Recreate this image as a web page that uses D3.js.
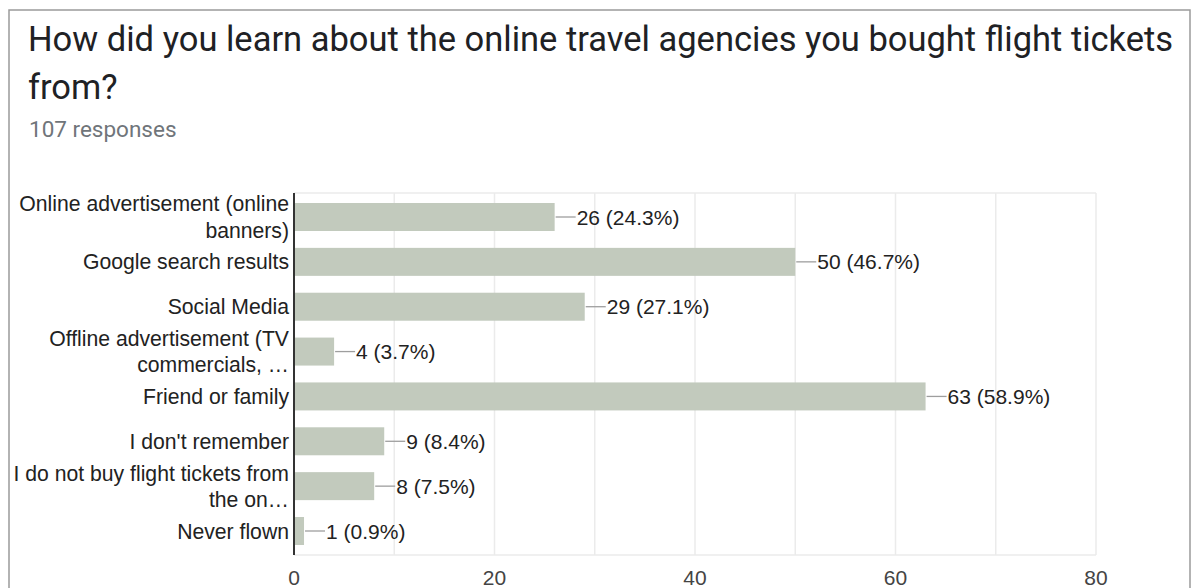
<!DOCTYPE html>
<html>
<head>
<meta charset="utf-8">
<script src="https://cdn.jsdelivr.net/npm/d3@7"></script>
<style>
  html, body { margin: 0; padding: 0; background: #fff; }
  svg { display: block; }
</style>
</head>
<body>
<svg id="chart" width="1199" height="588"></svg>
<script>
// Survey answers and response counts
const categories = [
  "Online advertisement (online banners)",
  "Google search results",
  "Social Media",
  "Offline advertisement (TV commercials, …",
  "Friend or family",
  "I don't remember",
  "I do not buy flight tickets from the on…",
  "Never flown"
];
const counts = [26, 50, 29, 4, 63, 9, 8, 1];
const percents = ["24.3%", "46.7%", "27.1%", "3.7%", "58.9%", "8.4%", "7.5%", "0.9%"];
const xTicks = [0, 20, 40, 60, 80];
const gridTicks = [0, 10, 20, 30, 40, 50, 60, 70, 80];

const titleLines = [
  "How did you learn about the online travel agencies you bought flight tickets",
  "from?"
];
const subtitle = "107 responses";

const svg = d3.select("#chart");

// Card frame
svg.append("rect")
  .attr("x", 9).attr("y", 10)
  .attr("width", 1181).attr("height", 620)
  .attr("fill", "#fff")
  .attr("stroke", "#9a9a9a")
  .attr("stroke-width", 1.5);

// Title and response count
svg.append("g").selectAll("text")
  .data(titleLines)
  .join("text")
  .attr("x", 28)
  .attr("y", (d, i) => 51 + i * 48)
  .attr("font-family", "Roboto, sans-serif")
  .attr("font-size", 34.5)
  .attr("fill", "#202124")
  .text(d => d);

svg.append("text")
  .attr("x", 29).attr("y", 137)
  .attr("font-family", "Roboto, sans-serif")
  .attr("font-size", 22.5)
  .attr("fill", "#70757a")
  .text(subtitle);

// Plot area
const plot = { left: 294, right: 1096, top: 193, bottom: 555 };
const x = d3.scaleLinear().domain([0, 80]).range([plot.left, plot.right]);
const y = d3.scaleBand()
  .domain(categories)
  .range([plot.top, plot.bottom])
  .paddingInner(0.376)
  .paddingOuter(0.223);

const font = "Liberation Sans, Arial, sans-serif";

// Vertical gridlines
svg.append("g").selectAll("line")
  .data(gridTicks.filter(t => t > 0))
  .join("line")
  .attr("x1", d => x(d)).attr("x2", d => x(d))
  .attr("y1", plot.top).attr("y2", plot.bottom)
  .attr("stroke", "#ebebeb")
  .attr("stroke-width", 1.5);

// Top and bottom frame of the plot area
svg.append("line")
  .attr("x1", plot.left).attr("x2", plot.right)
  .attr("y1", plot.top).attr("y2", plot.top)
  .attr("stroke", "#ebebeb").attr("stroke-width", 1.5);
svg.append("line")
  .attr("x1", plot.left).attr("x2", plot.right)
  .attr("y1", plot.bottom).attr("y2", plot.bottom)
  .attr("stroke", "#ebebeb").attr("stroke-width", 1.5);

// Bars
svg.append("g").selectAll("rect")
  .data(categories)
  .join("rect")
  .attr("x", x(0))
  .attr("y", d => y(d))
  .attr("width", (d, i) => x(counts[i]) - x(0))
  .attr("height", y.bandwidth())
  .attr("fill", "#c2cabd");

// Value labels with leader lines
const lab = svg.append("g").selectAll("g")
  .data(categories)
  .join("g")
  .attr("transform", (d, i) => `translate(${x(counts[i])},${y(d) + y.bandwidth() / 2})`);
lab.append("line")
  .attr("x1", 1).attr("x2", 21)
  .attr("stroke", "#9e9e9e").attr("stroke-width", 1.3);
lab.append("text")
  .attr("x", 22)
  .attr("dy", "0.36em")
  .attr("font-family", font)
  .attr("font-size", 21)
  .attr("fill", "#222")
  .text((d, i) => `${counts[i]} (${percents[i]})`);

// Category axis line
svg.append("line")
  .attr("x1", plot.left).attr("x2", plot.left)
  .attr("y1", plot.top).attr("y2", plot.bottom)
  .attr("stroke", "#333").attr("stroke-width", 2);

// Category labels, wrapped to fit the left margin
const maxLabelWidth = 282;
const lineGap = 26.5;
const catLabels = svg.append("g").selectAll("text")
  .data(categories)
  .join("text")
  .attr("text-anchor", "end")
  .attr("font-family", font)
  .attr("font-size", 21.2)
  .attr("fill", "#222");

catLabels.each(function(d) {
  const t = d3.select(this);
  const words = d.split(" ");
  const lines = [];
  let cur = "";
  const probe = t.append("tspan");
  words.forEach(w => {
    const test = cur ? cur + " " + w : w;
    probe.text(test);
    if (probe.node().getComputedTextLength() > maxLabelWidth && cur) {
      lines.push(cur);
      cur = w;
    } else {
      cur = test;
    }
  });
  lines.push(cur);
  probe.remove();
  const cy = y(d) + y.bandwidth() / 2;
  const startY = cy - (lines.length - 1) * lineGap / 2;
  lines.forEach((ln, i) => {
    t.append("tspan")
      .attr("x", plot.left - 5)
      .attr("y", startY + i * lineGap)
      .attr("dy", "0.36em")
      .text(ln);
  });
});

// Value axis tick labels
svg.append("g").selectAll("text")
  .data(xTicks)
  .join("text")
  .attr("x", d => x(d))
  .attr("y", 585)
  .attr("text-anchor", "middle")
  .attr("font-family", font)
  .attr("font-size", 21)
  .attr("fill", "#444")
  .text(d => d);
</script>
</body>
</html>
